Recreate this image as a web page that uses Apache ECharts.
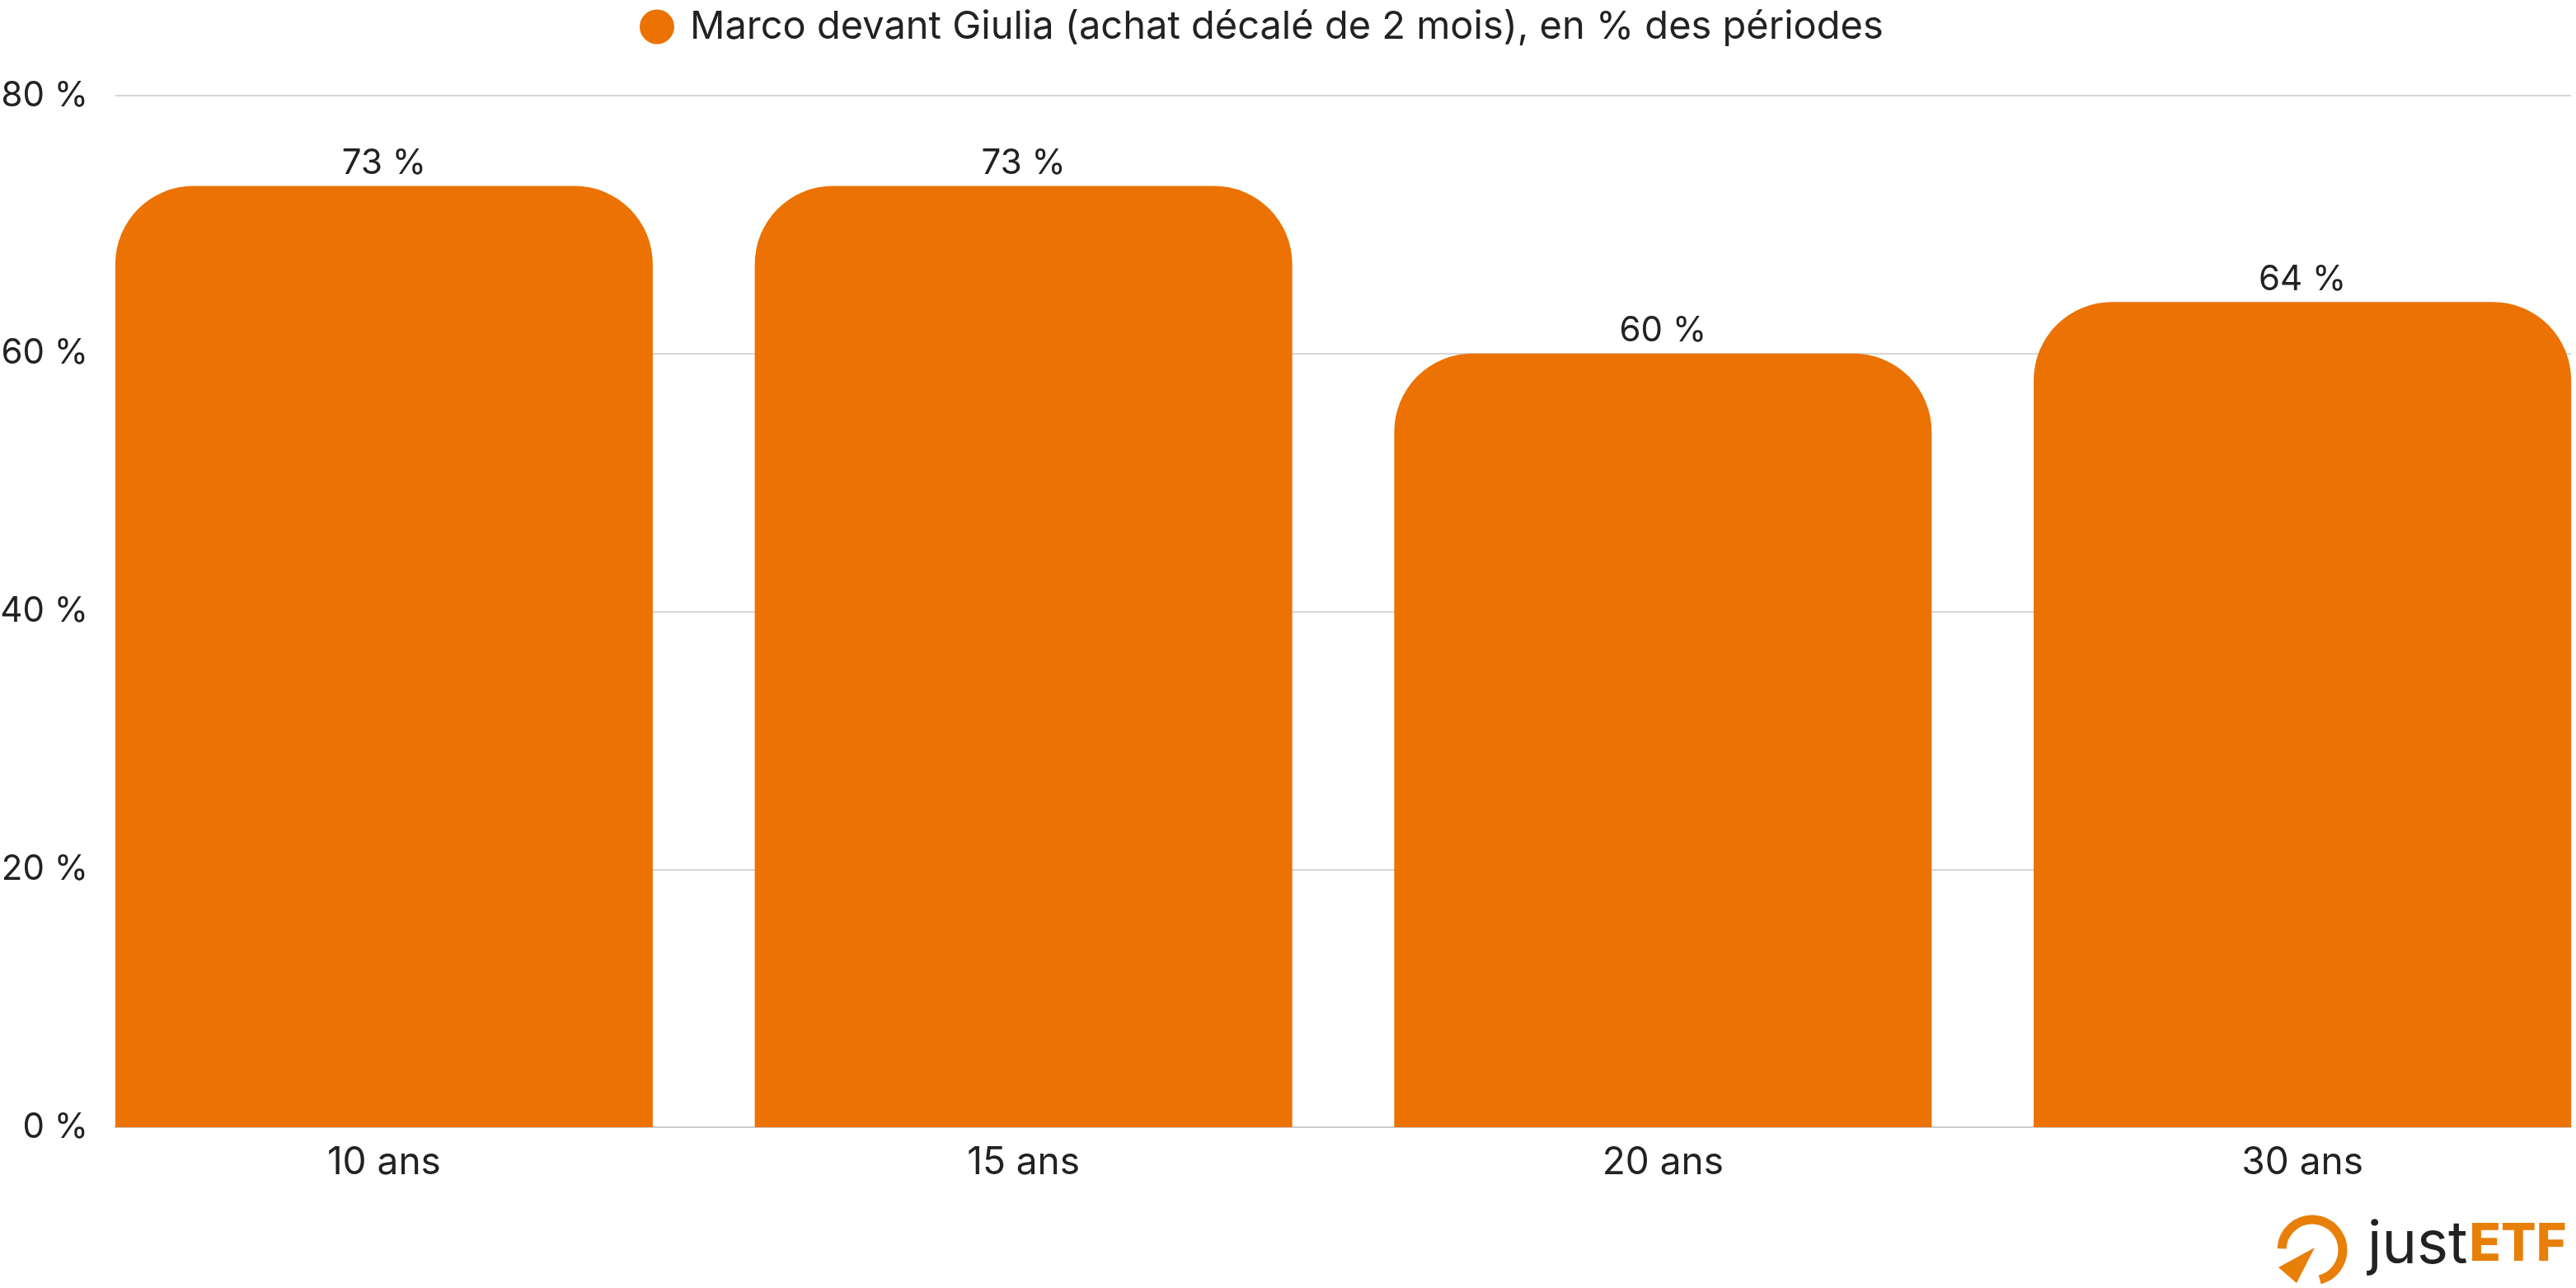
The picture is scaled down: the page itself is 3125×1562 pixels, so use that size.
<!DOCTYPE html>
<html>
<head>
<meta charset="utf-8">
<script src="https://cdn.jsdelivr.net/npm/echarts@6/dist/echarts.min.js"></script>
<style>
html,body{margin:0;padding:0;background:#fff;}
#chart{width:3125px;height:1562px;}
</style>
</head>
<body>
<div id="chart"></div>
<script>
const categories = ['10 ans', '15 ans', '20 ans', '30 ans'];
const values = [73, 73, 60, 64];
const seriesName = 'Marco devant Giulia (achat décalé de 2 mois), en % des périodes';
const yTicks = [0, 20, 40, 60, 80];

const ORANGE = '#EB7203';
const LOGO_ORANGE = '#E87F08';
const TEXT = '#222222';
const FONT = 'Inter, "Open Sans", sans-serif';

const chart = echarts.init(document.getElementById('chart'), null, {renderer: 'canvas'});
chart.setOption({
  animation: false,
  backgroundColor: '#ffffff',
  textStyle: {fontFamily: FONT},
  legend: {
    top: 9,
    left: 776,
    padding: 0,
    icon: 'circle',
    itemWidth: 42,
    itemHeight: 42,
    itemGap: 20,
    textStyle: {fontSize: 47, color: TEXT, fontFamily: FONT, padding: [0, 0, 0, 14]},
    data: [seriesName]
  },
  grid: [
    {left: 140, right: 6, top: 116, bottom: 195, containLabel: false, outerBoundsMode: 'none'},
    {left: 78, width: 3103, top: 116, bottom: 195, containLabel: false, outerBoundsMode: 'none'}
  ],
  xAxis: [
    {
      gridIndex: 0, type: 'value', min: 0, max: 1,
      axisTick: {show: false}, axisLabel: {show: false}, splitLine: {show: false},
      axisLine: {show: true, lineStyle: {color: '#cccccc', width: 2}}
    },
    {
      gridIndex: 1, type: 'category', data: categories,
      axisTick: {show: false},
      axisLine: {show: false},
      axisLabel: {fontSize: 46, color: TEXT, margin: 20, fontFamily: FONT}
    }
  ],
  yAxis: [
    {
      gridIndex: 0, type: 'value',
      min: yTicks[0], max: yTicks[yTicks.length - 1], interval: 20,
      axisLine: {show: false}, axisTick: {show: false},
      axisLabel: {fontSize: 42, color: TEXT, margin: 33, formatter: '{value} %', fontFamily: FONT},
      splitLine: {lineStyle: {color: '#d6d6d6', width: 2}}
    },
    {
      gridIndex: 1, type: 'value',
      min: yTicks[0], max: yTicks[yTicks.length - 1], interval: 20,
      show: false, splitLine: {show: false}
    }
  ],
  series: [{
    name: seriesName,
    type: 'bar',
    xAxisIndex: 1,
    yAxisIndex: 1,
    data: values,
    barCategoryGap: '15.95%',
    itemStyle: {color: ORANGE, borderRadius: [95, 95, 0, 0]},
    label: {
      show: true,
      position: 'top',
      distance: 6,
      formatter: '{c} %',
      fontSize: 42,
      color: TEXT,
      fontFamily: FONT
    }
  }],
  graphic: [
    {
      type: 'arc',
      shape: {cx: 2805, cy: 1516, r: 37, startAngle: -Math.PI * 1.0 + 0.05, endAngle: Math.PI * 0.42, clockwise: true},
      style: {stroke: LOGO_ORANGE, lineWidth: 11, fill: null, lineCap: 'butt'}
    },
    {
      type: 'polygon',
      shape: {points: [[2808, 1513], [2764, 1537], [2786, 1556]]},
      style: {fill: LOGO_ORANGE}
    },
    {
      type: 'text',
      left: 2872,
      top: 1474,
      style: {
        text: '{a|just}{b|ETF}',
        rich: {
          a: {fontSize: 72, fontFamily: FONT, fontWeight: 400, fill: TEXT},
          b: {fontSize: 63, fontFamily: FONT, fontWeight: 800, fill: LOGO_ORANGE, padding: [0, 0, 0, 2]}
        }
      }
    }
  ]
});
</script>
</body>
</html>
